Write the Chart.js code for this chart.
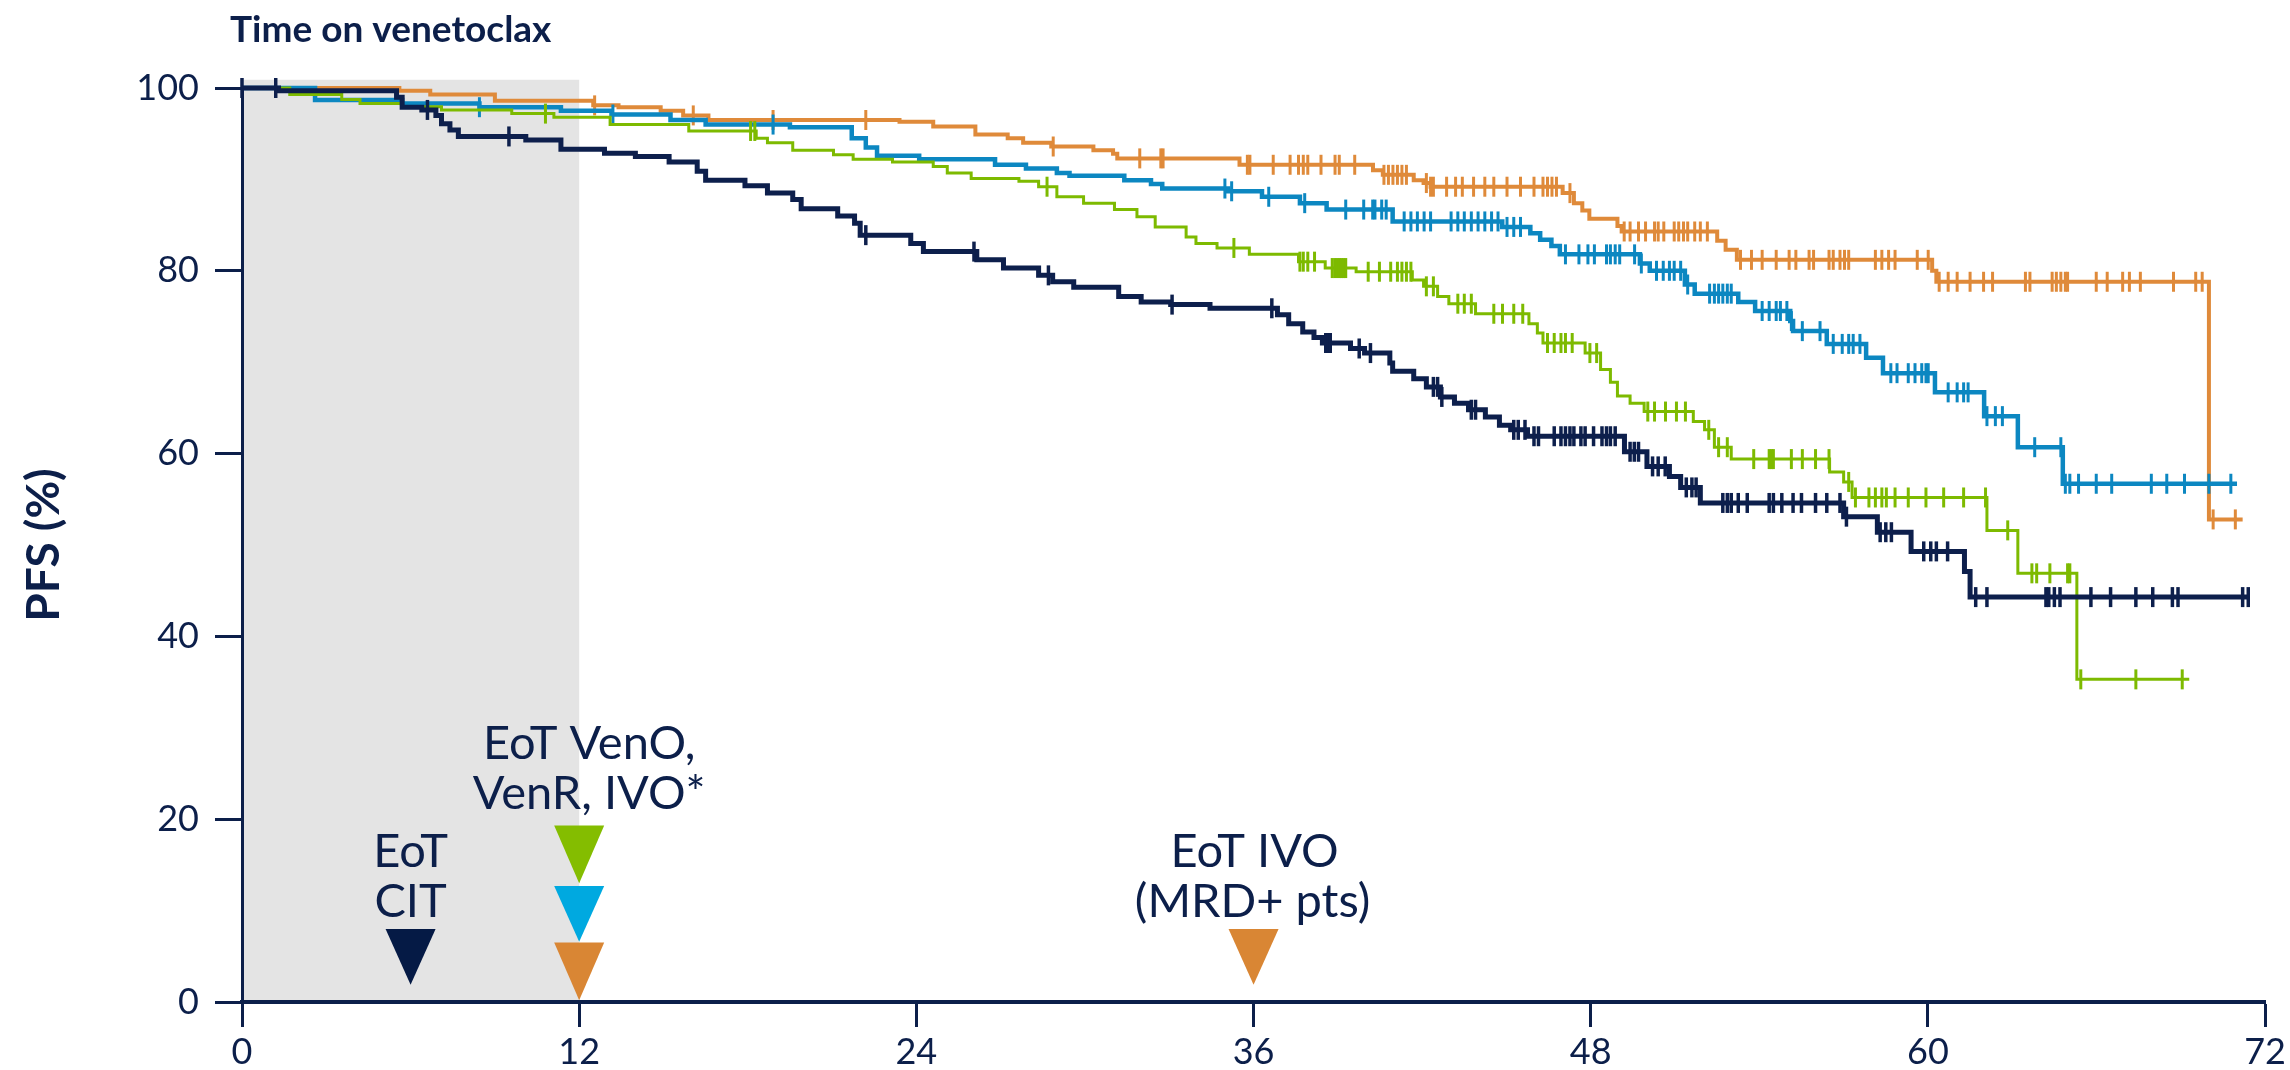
<!DOCTYPE html>
<html>
<head>
<meta charset="utf-8">
<script src="https://cdn.jsdelivr.net/npm/chart.js@4.4.1/dist/chart.umd.min.js"></script>
<style>
  html, body { margin: 0; padding: 0; background: #ffffff; }
  #wrap { width: 2290px; height: 1070px; }
</style>
</head>
<body>
<div id="wrap"><canvas id="myChart" width="2290" height="1070"></canvas></div>
<script>
// Kaplan-Meier PFS curves
// each curve: step times (months), PFS (%) after the step, censor times

const xTicks = [0, 12, 24, 36, 48, 60, 72];
const yTicks = [0, 20, 40, 60, 80, 100];

// navy
const navyTimes = [0, 1.3, 5.5, 5.7, 6.4, 6.9, 7.1, 7.4, 7.7, 10.1, 11.35, 12.9, 14.0, 15.2, 16.2, 16.5, 17.9, 18.7, 19.6, 19.9,
  21.2, 21.8, 22.0, 23.8, 24.25, 26.15, 27.1, 28.35, 28.85, 29.6, 31.2, 32.0, 33.05, 34.45, 36.85, 37.25, 37.75, 38.15, 38.45, 39.45,
  39.95, 40.85, 40.95, 41.7, 42.15, 42.65, 43.15, 43.65, 44.25, 44.75, 45.15, 45.75, 49.2, 50.0, 50.8, 51.2, 51.9, 57.0, 58.2, 59.4,
  61.3, 61.5, 71.4];
const navyPfs = [100, 99.7, 99.0, 97.9, 97.6, 97.0, 96.1, 95.4, 94.7, 94.3, 93.3, 92.85, 92.5, 91.9, 90.9, 89.9, 89.3, 88.5, 87.8, 86.8,
  86.0, 85.2, 83.9, 83.0, 82.1, 81.2, 80.3, 79.5, 78.8, 78.2, 77.2, 76.6, 76.3, 75.9, 75.2, 74.2, 73.3, 72.7, 72.1, 71.5,
  71.0, 69.9, 69.0, 68.2, 67.3, 66.2, 65.5, 64.8, 64.0, 63.1, 62.6, 61.9, 60.2, 58.6, 57.5, 56.3, 54.6, 53.1, 51.4, 49.3,
  47.1, 44.3, 44.3];
const navyCensor = [0, 1.2, 6.6, 9.5, 22.2, 26.05, 28.7, 33.1, 36.65, 38.57, 38.65, 38.73, 39.76, 40.16, 42.4, 42.55, 42.7, 43.75, 43.9,
  45.26, 45.42, 45.66, 45.98, 46.14, 46.7, 46.94, 47.1, 47.26, 47.4, 47.65, 47.8, 48.1, 48.4, 48.56, 48.7, 48.87, 49.4, 49.55, 49.7,
  50.2, 50.4, 50.65, 51.4, 51.6, 51.75, 52.7, 52.86, 53.0, 53.25, 53.57, 54.35, 54.5, 54.8, 55.2, 55.5, 56.0, 56.4, 56.87, 57.1,
  58.3, 58.5, 58.7, 59.85, 60.1, 60.3, 60.7, 61.7, 62.1, 64.2, 64.3, 64.5, 64.7, 65.8, 66.5, 67.4, 68.0, 68.7, 68.9, 71.2, 71.4];

// orange
const orangeTimes = [0, 5.6, 6.7, 9.0, 12.5, 13.4, 14.9, 15.7, 16.6, 23.4, 24.6, 26.1, 27.25, 27.8, 28.8, 30.3, 31.0, 31.15, 35.5, 40.25,
  40.6, 41.7, 42.05, 42.3, 47.0, 47.4, 47.7, 47.95, 48.95, 49.1, 52.5, 52.8, 53.2, 60.15, 60.3, 70.0, 71.2];
const orangePfs = [100, 99.7, 99.3, 98.6, 98.1, 97.9, 97.5, 97.0, 96.5, 96.3, 95.8, 94.9, 94.5, 94.0, 93.6, 93.2, 92.8, 92.3, 91.6, 91.0,
  90.5, 89.9, 89.6, 89.2, 88.5, 87.4, 86.6, 85.7, 84.9, 84.3, 83.3, 82.3, 81.2, 80.0, 78.8, 52.8, 52.8];
const orangeCensor = [12.55, 16.06, 18.9, 22.2, 28.87, 31.95, 32.7, 32.78, 35.78, 35.87, 36.7, 37.3, 37.6, 37.77, 37.93, 38.4, 38.9, 39.05,
  39.6, 40.64, 40.8, 40.96, 41.12, 41.28, 41.44, 42.15, 42.3, 42.4, 42.87, 43.19, 43.43, 43.83, 44.23, 44.55, 45.02, 45.5, 45.98, 46.3,
  46.46, 46.62, 46.78, 47.26, 49.19, 49.4, 49.7, 49.95, 50.27, 50.4, 50.6, 50.97, 51.13, 51.3, 51.45, 51.7, 51.9, 52.15, 53.33, 53.72,
  54.1, 54.6, 55.06, 55.3, 55.77, 55.93, 56.48, 56.63, 56.87, 57.03, 57.18, 58.13, 58.36, 58.6, 58.83, 59.62, 60.01, 60.4, 60.72,
  61.04, 61.5, 61.98, 62.3, 63.47, 63.63, 64.42, 64.57, 64.73, 64.89, 64.97, 65.99, 66.38, 66.93, 67.17, 67.56, 68.74, 69.53, 69.76,
  70.15, 70.94];

// blue
const blueTimes = [0, 2.6, 5.7, 8.45, 11.35, 13.15, 15.25, 16.5, 19.5, 21.7, 22.2, 22.6, 24.1, 26.8, 27.9, 29.0, 29.45, 31.4, 32.35, 32.75,
  35.1, 36.3, 37.65, 38.6, 40.95, 44.85, 45.85, 46.2, 46.6, 46.9, 49.75, 50.1, 51.35, 51.7, 53.25, 53.85, 55.1, 55.2, 56.4, 57.8,
  58.4, 60.25, 62.0, 63.2, 64.8, 71.0];
const bluePfs = [100, 98.7, 98.3, 97.9, 97.5, 97.1, 96.5, 96.0, 95.7, 94.5, 93.5, 92.6, 92.2, 91.6, 91.2, 90.7, 90.4, 89.9, 89.5, 89.0,
  88.7, 88.1, 87.4, 86.7, 85.4, 84.8, 84.1, 83.4, 82.7, 81.8, 80.8, 80.0, 78.5, 77.5, 76.6, 75.6, 74.5, 73.4, 72.0, 70.5,
  68.8, 66.7, 64.1, 60.7, 56.7, 56.7];
const blueCensor = [8.45, 13.2, 18.9, 34.98, 35.22, 36.54, 37.82, 39.28, 39.92, 40.24, 40.32, 40.56, 40.72, 41.36, 41.6, 41.83, 42.07, 42.3,
  43.03, 43.27, 43.5, 43.75, 43.99, 44.23, 44.47, 44.7, 45.02, 45.26, 45.5, 47.1, 47.58, 47.9, 48.13, 48.56, 48.7, 48.87, 49.03, 49.56,
  49.8, 50.34, 50.58, 50.8, 50.97, 51.2, 51.45, 52.23, 52.4, 52.55, 52.7, 52.86, 53.0, 54.1, 54.35, 54.6, 54.75, 54.98, 55.14, 55.53,
  56.16, 56.63, 56.95, 57.18, 57.34, 57.58, 58.68, 58.9, 59.3, 59.54, 59.78, 59.93, 60.01, 60.72, 61.04, 61.27, 61.43, 62.1, 62.4,
  62.65, 63.8, 64.73, 64.89, 65.05, 65.36, 65.99, 66.54, 67.95, 68.5, 69.13, 70.0, 70.78];

// green
const greenTimes = [0, 1.7, 3.55, 4.2, 5.7, 7.1, 9.6, 11.1, 13.1, 15.9, 18.3, 18.7, 19.6, 21.05, 21.75, 23.15, 24.6, 25.1, 25.95, 27.65,
  28.35, 29.0, 29.95, 31.05, 31.85, 32.5, 33.6, 33.95, 34.7, 35.85, 37.6, 38.55, 39.65, 41.65, 42.05, 42.55, 42.95, 43.9, 45.8, 46.1,
  46.3, 47.8, 48.35, 48.7, 48.95, 49.4, 49.9, 51.65, 52.05, 52.4, 53.0, 56.5, 57.0, 57.3, 62.1, 63.2, 65.3, 69.3];
const greenPfs = [100, 99.3, 98.75, 98.3, 97.95, 97.6, 97.2, 96.8, 96.0, 95.3, 94.5, 94.0, 93.2, 92.7, 92.2, 91.9, 91.4, 90.7, 90.1, 89.8,
  89.2, 88.1, 87.4, 86.7, 85.9, 84.8, 83.7, 83.0, 82.5, 81.8, 81.0, 80.3, 79.9, 79.0, 78.3, 77.2, 76.4, 75.3, 74.2, 73.2,
  72.1, 71.0, 69.2, 67.8, 66.3, 65.5, 64.6, 63.5, 62.6, 60.7, 59.4, 58.0, 56.9, 55.2, 51.6, 46.9, 35.3, 35.3];
const greenCensor = [10.8, 18.1, 18.25, 28.65, 35.3, 37.65, 37.77, 37.93, 38.17, 38.8, 38.89, 38.97, 39.05, 39.12, 39.2, 39.28, 40.08,
  40.48, 40.88, 41.12, 41.28, 41.44, 41.6, 42.15, 42.4, 43.27, 43.5, 43.75, 44.55, 44.86, 45.26, 45.58, 46.46, 46.7, 46.94, 47.1,
  47.34, 47.97, 48.21, 50.03, 50.27, 50.66, 51.05, 51.37, 52.2, 52.55, 52.86, 53.8, 54.35, 54.43, 54.5, 55.14, 55.53, 56.0, 56.48,
  57.18, 57.42, 57.9, 58.13, 58.36, 58.52, 58.83, 59.3, 59.93, 60.56, 61.27, 62.05, 62.84, 63.7, 63.87, 64.34, 64.97, 65.05, 65.44,
  67.4, 69.05];

const NAVY = "#0c1f4a";

// step curve points
function steps(times, pfs) {
  return times.map((t, i) => ({ x: t, y: pfs[i] }));
}

// censor marks sit on the curve level at that time
function censors(times, pfs, cens) {
  return cens.map((c) => {
    let lvl = pfs[0];
    for (let i = 0; i < times.length; i++) {
      if (times[i] <= c) lvl = pfs[i];
    }
    return { x: c, y: lvl };
  });
}

function curve(times, pfs, color, width, order) {
  return {
    type: "line",
    data: steps(times, pfs),
    stepped: "before",
    borderColor: color,
    borderWidth: width,
    pointRadius: 0,
    fill: false,
    order: order,
    clip: false,
  };
}

function marks(times, pfs, cens, color, width, order) {
  return {
    type: "scatter",
    data: censors(times, pfs, cens),
    pointStyle: "line",
    rotation: 90,
    pointRadius: 10,
    borderColor: color,
    backgroundColor: color,
    pointBorderWidth: width,
    borderWidth: width,
    order: order,
    clip: false,
  };
}

// shaded box, title, end-of-treatment markers
const extras = {
  id: "extras",
  beforeDraw(chart) {
    const { ctx, scales: { x, y } } = chart;
    const l = x.getPixelForValue(0);
    const r = x.getPixelForValue(12);
    const t = y.getPixelForValue(100.9);
    const b = y.getPixelForValue(0);
    ctx.save();
    ctx.fillStyle = "#e4e4e4";
    ctx.fillRect(l, t, r - l, b - t);
    ctx.restore();
  },
  afterDraw(chart) {
    const { ctx, scales: { x, y } } = chart;
    ctx.save();

    // title top left
    ctx.fillStyle = NAVY;
    ctx.font = "bold 37px Lato";
    ctx.textAlign = "left";
    ctx.textBaseline = "alphabetic";
    ctx.fillText("Time on venetoclax", x.getPixelForValue(0) - 12, 42);

    // triangles
    function tri(xv, tipV, topV, color) {
      const cx = x.getPixelForValue(xv);
      const hw = 25;
      const tip = y.getPixelForValue(tipV);
      const top = y.getPixelForValue(topV);
      ctx.fillStyle = color;
      ctx.beginPath();
      ctx.moveTo(cx - hw, top);
      ctx.lineTo(cx + hw, top);
      ctx.lineTo(cx, tip);
      ctx.closePath();
      ctx.fill();
    }
    tri(12, 13.0, 19.3, "#84bd00");
    tri(12, 6.6, 12.7, "#00a9e0");
    tri(12, 0.2, 6.5, "#d98634");
    tri(6, 1.9, 8.0, "#051a45");
    tri(36, 1.9, 8.0, "#d98634");

    // labels
    ctx.fillStyle = NAVY;
    ctx.font = "47px Lato";
    ctx.textAlign = "center";
    const lab = (txt, xv, dx, yv) => ctx.fillText(txt, x.getPixelForValue(xv) + dx, y.getPixelForValue(yv));
    lab("EoT VenO,", 12, 10, 26.6);
    lab("VenR, IVO*", 12, 10, 21.1);
    lab("EoT", 6, 0, 14.8);
    lab("CIT", 6, 0, 9.3);
    lab("EoT IVO", 36, 1, 14.8);
    lab("(MRD+ pts)", 36, -1, 9.3);

    ctx.restore();
  },
};

function createChart() {
  Chart.defaults.font.family = "Lato";
  const ctx = document.getElementById("myChart");
  new Chart(ctx, {
    data: {
      datasets: [
        marks(navyTimes, navyPfs, navyCensor, "#0d1f4c", 3.5, 0),
        curve(navyTimes, navyPfs, "#0d1f4c", 5, 1),
        marks(greenTimes, greenPfs, greenCensor, "#7dba00", 3, 2),
        curve(greenTimes, greenPfs, "#7dba00", 3, 3),
        marks(blueTimes, bluePfs, blueCensor, "#0c87c1", 3, 4),
        curve(blueTimes, bluePfs, "#0c87c1", 4.5, 5),
        marks(orangeTimes, orangePfs, orangeCensor, "#df8a3a", 3, 6),
        curve(orangeTimes, orangePfs, "#df8a3a", 4, 7),
      ],
    },
    options: {
      responsive: false,
      animation: false,
      devicePixelRatio: 1,
      layout: { padding: { left: 0, right: 11, top: 88, bottom: 0 } },
      scales: {
        x: {
          type: "linear",
          min: xTicks[0],
          max: xTicks[xTicks.length - 1],
          afterBuildTicks: (s) => { s.ticks = xTicks.map((v) => ({ value: v })); },
          ticks: { color: NAVY, font: { size: 36 }, padding: 4 },
          grid: { drawOnChartArea: false, tickLength: 25, tickWidth: 3, tickColor: NAVY },
          border: { color: NAVY, width: 4 },
          afterFit: (s) => { s.height = 68; },
        },
        y: {
          type: "linear",
          min: yTicks[0],
          max: yTicks[yTicks.length - 1],
          afterBuildTicks: (s) => { s.ticks = yTicks.map((v) => ({ value: v })); },
          ticks: { color: NAVY, font: { size: 36 }, padding: 16 },
          grid: { drawOnChartArea: false, tickLength: 27, tickWidth: 3, tickColor: NAVY },
          border: { color: NAVY, width: 3 },
          title: {
            display: true,
            text: "PFS (%)",
            color: NAVY,
            font: { size: 46, weight: "bold" },
            padding: { top: 17, bottom: 0 },
          },
          afterFit: (s) => { s.width = 242; },
        },
      },
      plugins: {
        legend: { display: false },
        tooltip: { enabled: false },
      },
    },
    plugins: [extras],
  });
}

Promise.all([document.fonts.load("36px Lato"), document.fonts.load("bold 36px Lato")])
  .then(createChart, createChart);
</script>
</body>
</html>
